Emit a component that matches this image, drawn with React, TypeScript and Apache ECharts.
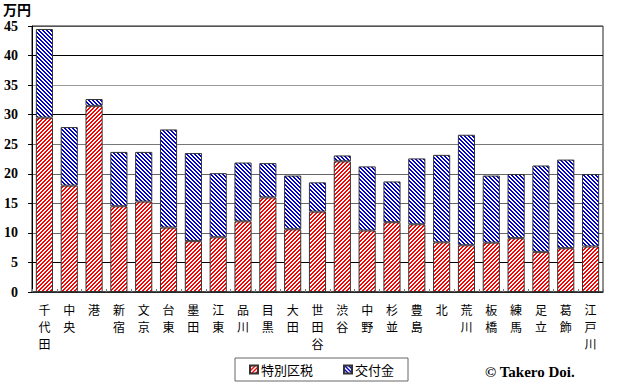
import React, { useEffect, useRef } from "react";
import * as echarts from "echarts";

const categories = ["千代田", "中央", "港", "新宿", "文京", "台東", "墨田", "江東", "品川", "目黒", "大田", "世田谷", "渋谷", "中野", "杉並", "豊島", "北", "荒川", "板橋", "練馬", "足立", "葛飾", "江戸川"];
const tokubetsuKuzei = [29.5, 18.0, 31.5, 14.5, 15.3, 10.9, 8.6, 9.25, 11.95, 16.0, 10.6, 13.6, 22.1, 10.4, 11.8, 11.45, 8.4, 7.9, 8.35, 9.1, 6.8, 7.4, 7.7];
const koufukin = [15.0, 9.9, 1.15, 9.2, 8.4, 16.6, 14.9, 10.85, 9.95, 5.8, 9.1, 4.95, 1.0, 10.85, 6.9, 11.15, 14.8, 18.7, 11.35, 10.86, 14.6, 15.0, 12.26];
const yTicks = { min: 0, max: 45, interval: 5 };
const seriesNames = ["特別区税", "交付金"];

function makePattern(color: string, dir: "/" | "\\") {
  const c = document.createElement("canvas");
  c.width = 4;
  c.height = 4;
  const ctx = c.getContext("2d")!;
  ctx.fillStyle = "#fff";
  ctx.fillRect(0, 0, 4, 4);
  ctx.fillStyle = color;
  for (let x = 0; x < 4; x++) {
    for (let y = 0; y < 4; y++) {
      const v = dir === "/" ? (x + y) % 4 : (x - y + 8) % 4;
      if (v < 2) ctx.fillRect(x, y, 1, 1);
    }
  }
  return { image: c, repeat: "repeat", imageWidth: 4, imageHeight: 4 } as any;
}

export default function App() {
  const ref = useRef<HTMLDivElement>(null);
  useEffect(() => {
    const chart = echarts.init(ref.current!, null, { renderer: "svg" });
    const redPat = makePattern("#ff0000", "/");
    const bluePat = makePattern("#0000cc", "\\");
    chart.setOption({
      animation: false,
      backgroundColor: "#fff",
      grid: { left: 32, right: 40, top: 26, bottom: 99, show: true, borderColor: "#222", borderWidth: 1 },
      legend: {
        left: 235,
        top: 358,
        padding: [5, 14],
        itemGap: 30,
        itemWidth: 8,
        itemHeight: 8,
        icon: "rect",
        borderColor: "#666",
        borderWidth: 1,
        textStyle: { fontFamily: "Noto Sans CJK JP", fontSize: 13, color: "#000", padding: [0, 0, 0, -2] },
        data: seriesNames,
      },
      xAxis: {
        type: "category",
        data: categories,
        axisLine: { lineStyle: { color: "#333", width: 1.5 } },
        axisTick: { show: true, inside: true, length: 3, lineStyle: { color: "#777" } },
        axisLabel: {
          interval: 0,
          margin: 9,
          fontFamily: "Noto Sans CJK JP",
          fontSize: 12,
          lineHeight: 17,
          color: "#000",
          verticalAlign: "top",
          formatter: (v: string) => v.split("").join("\n"),
        },
      },
      yAxis: {
        type: "value",
        min: yTicks.min,
        max: yTicks.max,
        interval: yTicks.interval,
        axisLine: { show: true, lineStyle: { color: "#000" } },
        axisTick: { show: true, length: 4, lineStyle: { color: "#000" } },
        axisLabel: { margin: 14, fontFamily: "Liberation Serif", fontWeight: "bold", fontSize: 14, color: "#000" },
        splitLine: {
          lineStyle: {
            color: ["#000", "#000", "#666", "#666", "#666", "#777", "#000", "#999", "#000", "#555"],
            width: 1,
          },
        },
      },
      series: [
        {
          name: seriesNames[0],
          type: "bar",
          stack: "total",
          barCategoryGap: "31%",
          data: tokubetsuKuzei,
          itemStyle: { color: redPat, borderColor: "#333", borderWidth: 1 },
        },
        {
          name: seriesNames[1],
          type: "bar",
          stack: "total",
          barCategoryGap: "31%",
          data: koufukin,
          itemStyle: { color: bluePat, borderColor: "#333", borderWidth: 1 },
        },
      ],
      graphic: [
        {
          type: "text",
          left: 3,
          top: 2,
          style: { text: "万円", fontFamily: "Noto Sans CJK JP", fontWeight: "bold", fontSize: 14, fill: "#000" },
        },
        {
          type: "text",
          left: 485,
          top: 364,
          style: { text: "© Takero Doi.", fontFamily: "Liberation Serif", fontWeight: "bold", fontSize: 15, fill: "#000" },
        },
      ],
    });
    return () => chart.dispose();
  }, []);
  return <div ref={ref} style={{ position: "fixed", left: 0, top: 0, width: 643, height: 391 }} />;
}
